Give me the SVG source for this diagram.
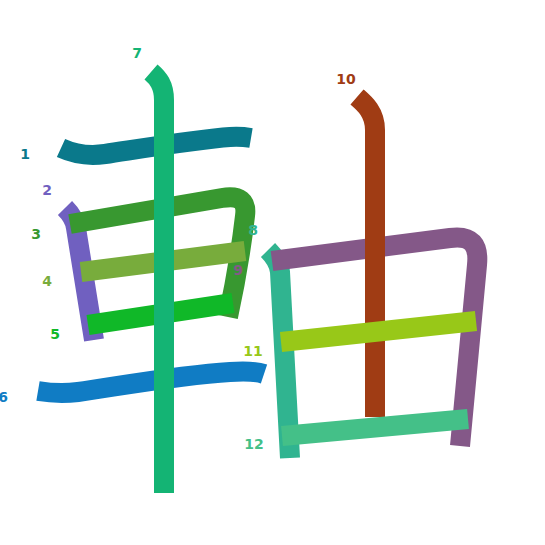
<svg xmlns="http://www.w3.org/2000/svg" width="545" height="545" viewBox="0 0 545 545">
<style>
.s{fill:none;stroke-width:20;stroke-linecap:butt;stroke-linejoin:round}
.n{font-family:"DejaVu Sans",sans-serif;font-weight:bold;font-size:14px;text-anchor:middle}
</style>
<rect width="545" height="545" fill="#ffffff"/>
<g id="connectors">
<path id="s1" class="s" stroke="#0a798b" d="M61,148 C72,153 85,157 105,154 C145,148 200,139 230,137 C238,136.5 245,137 251,138"/>
<path id="s2" class="s" stroke="#7060c0" d="M65,208 C70,213 75,220 76,228 L94,340"/>
<path id="s3" class="s" stroke="#389830" d="M70,224 L222,198 C240,195 247,201 245,216 C242,242 236,280 228,317"/>
<path id="s4" class="s" stroke="#78ac3c" d="M81,272 L245,251"/>
<path id="s5" class="s" stroke="#10b828" d="M88,325 L233,303"/>
<path id="s6" class="s" stroke="#107cc4" d="M38,391 C50,393 62,394 78,392 C120,386 180,375 230,372 C245,371 255,371 264,374"/>
<path id="s7" class="s" stroke="#14b474" d="M151,72 C158,78 164,85 164,100 L164,493"/>
<path id="s8" class="s" stroke="#30b490" d="M268,250 C273,255 279,262 280,272 L290,458"/>
<path id="s9" class="s" stroke="#845888" d="M272,261 L450,238 C472,235 479,245 477,265 L460,446"/>
<path id="s10" class="s" stroke="#a03c14" d="M357,97 C364,103 375,112 375,130 L375,417"/>
<path id="s11" class="s" stroke="#98c818" d="M281,342 L476,321"/>
<path id="s12" class="s" stroke="#44c088" d="M282,436 L468,419"/>
</g>
<g id="labels">
<text id="n1" class="n" x="25" y="159" fill="#0a798b">1</text>
<text id="n2" class="n" x="47" y="195" fill="#7060c0">2</text>
<text id="n3" class="n" x="36" y="239" fill="#389830">3</text>
<text id="n4" class="n" x="47" y="286" fill="#78ac3c">4</text>
<text id="n5" class="n" x="55" y="339" fill="#10b828">5</text>
<text id="n6" class="n" x="3" y="402" fill="#107cc4">6</text>
<text id="n7" class="n" x="137" y="58" fill="#14b474">7</text>
<text id="n8" class="n" x="253" y="235" fill="#30b490">8</text>
<text id="n9" class="n" x="238" y="275" fill="#845888">9</text>
<text id="n10" class="n" x="346" y="84" fill="#a03c14">10</text>
<text id="n11" class="n" x="253" y="356" fill="#98c818">11</text>
<text id="n12" class="n" x="254" y="449" fill="#44c088">12</text>
</g>
</svg>
